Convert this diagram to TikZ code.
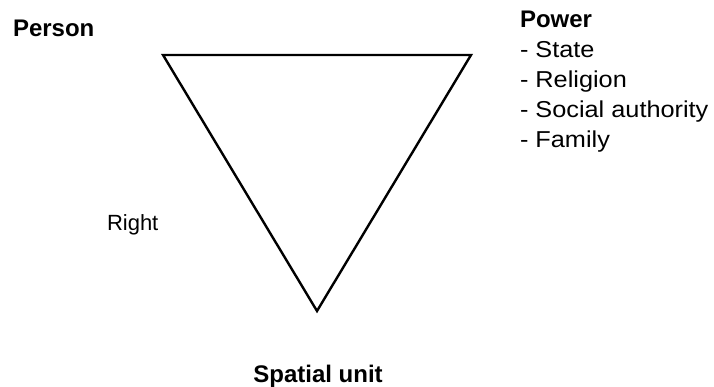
\documentclass[tikz,border=0pt]{standalone}
\usepackage{fontspec}
\setmainfont{Liberation Sans}
\begin{document}
\begin{tikzpicture}[x=1pt,y=-1pt,
  lbl/.style={anchor=base west,inner sep=0pt,outer sep=0pt,font=\fontsize{23}{26}\selectfont,xscale=1.1,transform shape},
  blbl/.style={anchor=base west,inner sep=0pt,outer sep=0pt,font=\fontsize{24}{26}\selectfont\bfseries,transform shape},
  plain/.style={anchor=base west,inner sep=0pt,outer sep=0pt,font=\fontsize{22}{26}\selectfont},
  edge/.style={line width=2.4pt,line join=miter}]
\useasboundingbox (0,0) rectangle (714,387);
\coordinate (tl) at (163,55);
\coordinate (tr) at (471,55);
\coordinate (bt) at (317,311);
\draw[edge] (tl) -- (tr) -- (bt) -- cycle;
\node[blbl] (person) at (13,37) {Person};
\node[blbl] (power) at (520,28) {Power};
\node[lbl] (state) at (520,58) {- State};
\node[lbl] (religion) at (520,88) {- Religion};
\node[lbl] (social) at (520,118) {- Social authority};
\node[lbl] (family) at (520,148) {- Family};
\node[plain] (right) at (107,230) {Right};
\node[blbl,anchor=base] (spatial) at (318,382) {Spatial unit};
\end{tikzpicture}
\end{document}
